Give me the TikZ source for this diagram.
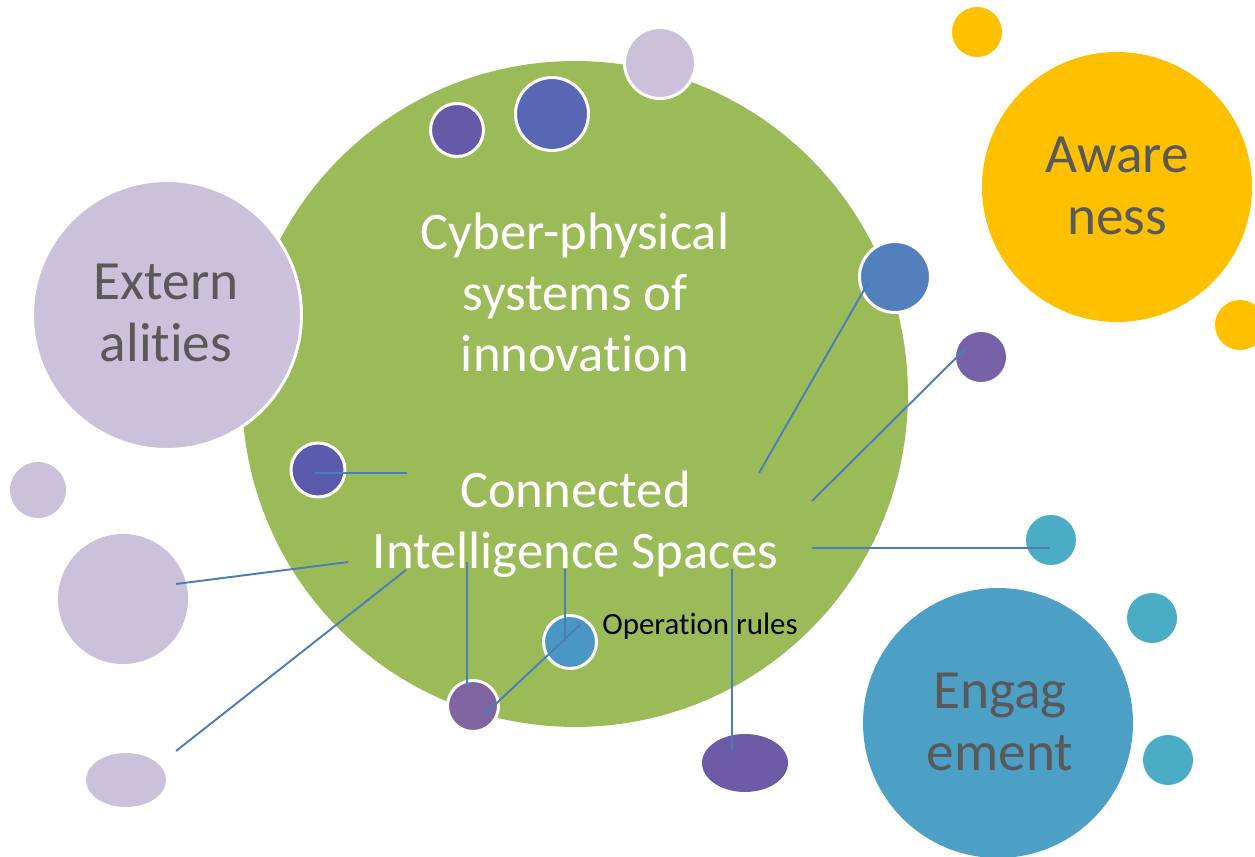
\documentclass[tikz,border=0pt]{standalone}
\usepackage{fontspec}
\setmainfont{Carlito}[Ligatures=NoCommon]
\usetikzlibrary{shapes.geometric}
\definecolor{cgreen}{HTML}{9BBB59}
\definecolor{clav}{HTML}{CCC1DA}
\definecolor{cyellow}{HTML}{FFC000}
\definecolor{cengage}{HTML}{4DA0C5}
\definecolor{cteal}{HTML}{4BACC6}
\definecolor{cpurple}{HTML}{6659A8}
\definecolor{cbluetop}{HTML}{5767B4}
\definecolor{cblueright}{HTML}{5180BD}
\definecolor{cpurpleright}{HTML}{7762A8}
\definecolor{cdarkblue}{HTML}{5B5BAD}
\definecolor{cpurplebot}{HTML}{8064A2}
\definecolor{cbluesmall}{HTML}{4A96C4}
\definecolor{cellpurple}{HTML}{6D5BA8}
\definecolor{cline}{HTML}{4A7EBB}
\definecolor{cgreytext}{HTML}{595959}
\tikzset{
  bub/.style={circle, inner sep=0pt, outer sep=0pt, minimum size=#1},
  rim/.style={draw=white, line width=1.7pt},
  ell/.style={ellipse, inner sep=0pt, outer sep=0pt},
  conn/.style={draw=cline, line width=1.1pt},
  bigtxt/.style={align=center, font=\fontsize{30}{35}\selectfont, inner sep=0pt, anchor=base},
  greytxt/.style={align=center, font=\fontsize{31.5}{35.5}\selectfont, inner sep=0pt, anchor=base, text=cgreytext},
  smalltxt/.style={font=\fontsize{17.6}{20}\selectfont, inner sep=0pt, anchor=base west, text=black}
}
\begin{document}
\begin{tikzpicture}[x=0.02cm, y=-0.02cm]
\useasboundingbox (0,0) rectangle (1255,857);
% main circle
\node[bub=13.32cm, fill=cgreen] (main) at (575,394) {};
% large bubbles
\node[bub=5.38cm, fill=clav, rim] (ext) at (167,315) {};
\node[bub=5.4cm, fill=cyellow] (aware) at (1117,187) {};
\node[bub=5.4cm, fill=cengage] (engage) at (998,723) {};
% small yellow
\node[bub=1.0cm, fill=cyellow] (y1) at (977,32) {};
\node[bub=1.0cm, fill=cyellow] (y2) at (1240,325) {};
% small teal
\node[bub=1.0cm, fill=cteal] (t1) at (1051,540) {};
\node[bub=1.0cm, fill=cteal] (t2) at (1152,618) {};
\node[bub=1.0cm, fill=cteal] (t3) at (1168,760) {};
% small lavender
\node[bub=1.42cm, fill=clav, rim] (lavtop) at (660,63) {};
\node[bub=1.12cm, fill=clav] (lavsmall) at (38,490) {};
\node[bub=2.6cm, fill=clav] (lavmed) at (123,599) {};
\node[ell, minimum width=1.6cm, minimum height=1.08cm, fill=clav] (lavell) at (126,780) {};
% other small bubbles
\node[bub=1.06cm, fill=cpurple, rim] (purtop) at (457,130) {};
\node[bub=1.46cm, fill=cbluetop, rim] (bluetop) at (552,114) {};
\node[bub=1.42cm, fill=cblueright, rim] (blueright) at (895,277) {};
\node[bub=1.0cm, fill=cpurpleright] (purright) at (981,357) {};
\node[bub=1.08cm, fill=cdarkblue, rim] (darkblue) at (318,470) {};
\node[bub=1.02cm, fill=cpurplebot, rim] (purbot) at (473,706) {};
\node[bub=1.06cm, fill=cbluesmall, rim] (bluesmall) at (570,642) {};
\node[ell, minimum width=1.72cm, minimum height=1.16cm, fill=cellpurple] (purell) at (745,763) {};
% texts (anchor = baseline of the last line)
\node[bigtxt, text=white] (cps) at (575,372) {Cyber-physical\\systems of\\innovation};
\node[bigtxt, text=white] (cis) at (575.5,569) {Connected\\Intelligence Spaces};
\node[greytxt] (extt) at (166,362) {Extern\\alities};
\node[greytxt] (awt) at (1117,235) {Aware\\ness};
\node[greytxt] (ent) at (1000,771) {Engag\\ement};
\node[smalltxt] (oprules) at (602,635) {Operation rules};
% connector end points
\coordinate (a1) at (315,473); \coordinate (b1) at (407,473);
\coordinate (a2) at (176,584); \coordinate (b2) at (348,562);
\coordinate (a3) at (176,751); \coordinate (b3) at (406,570);
\coordinate (a4) at (467,688); \coordinate (b4) at (467,562);
\coordinate (a5) at (565,641); \coordinate (b5) at (565,569);
\coordinate (a6) at (484,715); \coordinate (b6) at (581,624);
\coordinate (a7) at (732,751); \coordinate (b7) at (732,569);
\coordinate (a8) at (1050,548); \coordinate (b8) at (812,548);
\coordinate (a9) at (868,283); \coordinate (b9) at (759,473);
\coordinate (a10) at (967,347); \coordinate (b10) at (812,501);
\foreach \i in {1,...,10} { \draw[conn] (a\i) -- (b\i); }
\end{tikzpicture}
\end{document}
